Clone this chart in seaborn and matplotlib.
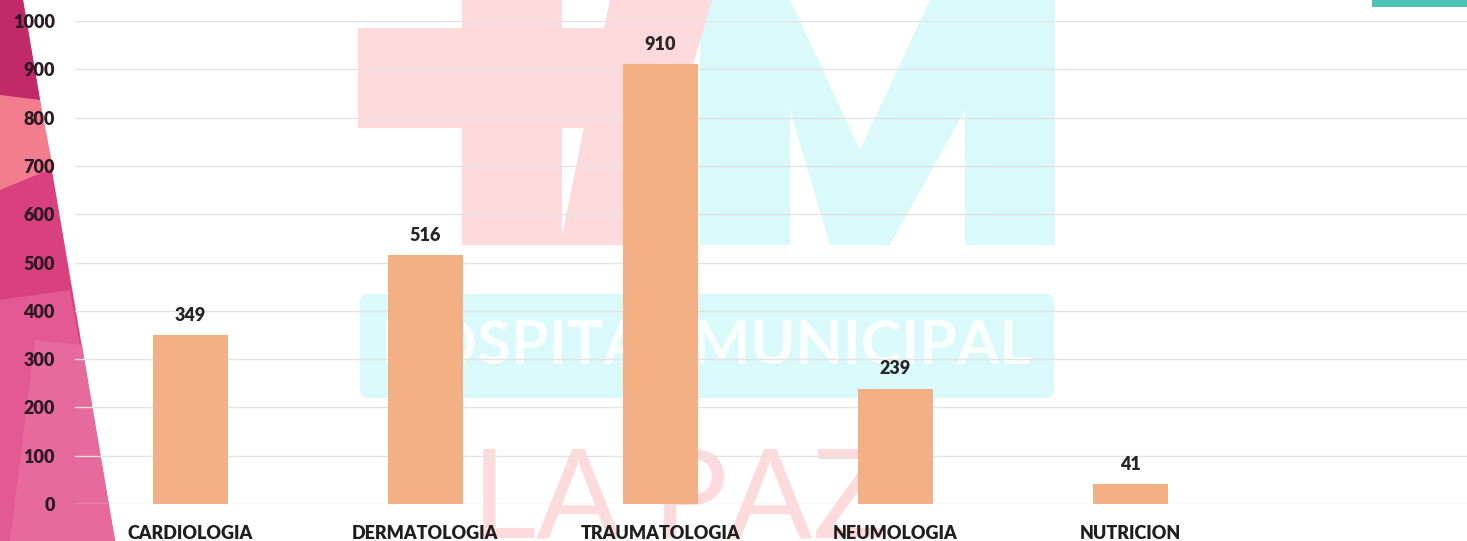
import matplotlib
matplotlib.use('Agg')
import matplotlib.pyplot as plt
from matplotlib.patches import Polygon, FancyBboxPatch, Rectangle
import pandas as pd
import seaborn as sns

# data
especialidades = ['CARDIOLOGIA', 'DERMATOLOGIA', 'TRAUMATOLOGIA', 'NEUMOLOGIA', 'NUTRICION']
pacientes = [349, 516, 910, 239, 41]
yticks = [0, 100, 200, 300, 400, 500, 600, 700, 800, 900, 1000]

df = pd.DataFrame({'especialidad': especialidades, 'pacientes': pacientes})

sns.set_theme(style='white')
plt.rcParams['font.family'] = ['Lato', 'DejaVu Sans']

W, H = 1467, 541
fig = plt.figure(figsize=(W / 100, H / 100), dpi=100)
fig.patch.set_facecolor('white')

# background decorations drawn in pixel coordinates
bg = fig.add_axes([0, 0, 1, 1], zorder=-1)
bg.set_xlim(0, W)
bg.set_ylim(H, 0)
bg.axis('off')

# pink band on the left
bg.add_patch(Polygon([(0, 0), (23, 0), (115, H), (0, H)], color='#d9417e', lw=0))
bg.add_patch(Polygon([(0, 0), (23, 0), (40, 100), (0, 95)], color='#c02a68', lw=0))
bg.add_patch(Polygon([(0, 95), (40, 100), (53, 168), (0, 190)], color='#f27d8c', lw=0))
bg.add_patch(Polygon([(0, 300), (70, 290), (115, H), (0, H)], color='#e35a93', lw=0))
bg.add_patch(Polygon([(35, 340), (82, 345), (115, H), (10, H)], color='#e76a9c', lw=0))

# watermark (hospital logo), very light
wm_pink = '#fddadc'
wm_cyan = '#d9f9fb'
bg.add_patch(Rectangle((358, 28), 330, 100, color=wm_pink, lw=0))
bg.add_patch(Rectangle((462, 0), 100, 245, color=wm_pink, lw=0))
bg.add_patch(Polygon([(700, 0), (790, 0), (860, 150), (930, 0), (1055, 0), (1055, 245),
                      (965, 245), (965, 110), (890, 245), (830, 245), (790, 110), (790, 245),
                      (700, 245)], color=wm_cyan, lw=0))
bg.add_patch(Polygon([(610, 0), (712, 0), (640, 245), (560, 245)], color=wm_pink, lw=0))
bg.add_patch(FancyBboxPatch((362, 296), 690, 100, boxstyle='round,pad=2,rounding_size=8',
                            color=wm_cyan, lw=0))
bg.text(706, 346, 'HOSPITAL MUNICIPAL', color='white', fontsize=44, fontweight='bold',
        ha='center', va='center', alpha=0.9)
bg.text(680, 538, 'LA PAZ', color=wm_pink, fontsize=90, ha='center', va='baseline')
# fragment of the top-right logo
bg.add_patch(Rectangle((1372, 0), 95, 7, color='#4cc3b4', lw=0))

# main chart
ax = fig.add_axes([75 / W, 1 - 504 / H, 1 - 75 / W, (504 - 21) / H])
ax.set_facecolor('none')
sns.barplot(data=df, x='especialidad', y='pacientes', color='#f2b084', saturation=1,
            width=0.32, ax=ax, zorder=3, linewidth=0, edgecolor='none')

ax.set_ylim(0, 1000)
ax.set_xlim(-0.49, 5.43)
ax.set_yticks(yticks)
ax.yaxis.grid(True, color='#e3e3e3', lw=1.0, zorder=0)
ax.set_axisbelow(True)
for s in ax.spines.values():
    s.set_visible(False)
ax.tick_params(axis='both', length=0)
ax.tick_params(axis='y', pad=14.5)
ax.tick_params(axis='x', pad=15)
for lab in ax.get_yticklabels():
    lab.set_fontweight('heavy')
    lab.set_fontsize(13)
    lab.set_color('#2a1a24')
for lab in ax.get_xticklabels():
    lab.set_fontweight('heavy')
    lab.set_fontsize(13)
    lab.set_color('#1e1e1e')
ax.set_xlabel('')
ax.set_ylabel('')

for c in ax.containers:
    ax.bar_label(c, padding=8, fontsize=13, fontweight='heavy', color='#262626')

fig.savefig('out.png', dpi=100)
